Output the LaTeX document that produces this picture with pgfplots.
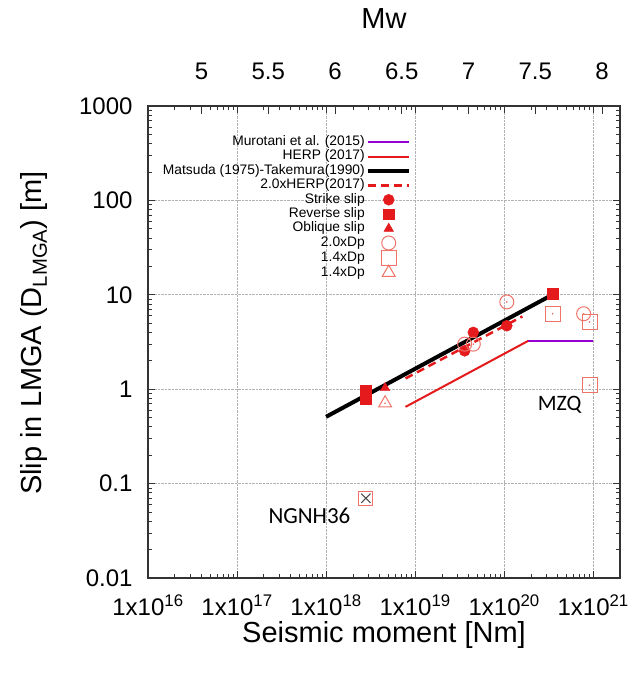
\documentclass[border=0pt]{standalone}
\usepackage{pgfplots}
\pgfplotsset{compat=1.18}
\usepackage{fontspec}
\setmainfont{Liberation Sans}
\newfontfamily\calibri{Carlito}
\definecolor{gred}{RGB}{228,26,28}
\definecolor{lred}{RGB}{240,115,105}
\definecolor{gpurple}{RGB}{148,0,211}
\pgfplotsset{
  lineleg/.style={legend image code/.code={\draw[##1] (0pt,0pt) -- (41pt,0pt);}},
  markleg/.style={legend image code/.code={\path[draw=none,fill=none] (0pt,0pt) -- (41pt,0pt); \draw[##1,draw=none] plot coordinates {(21pt,0pt)};}},
}
\begin{document}
\begin{tikzpicture}
\useasboundingbox (-148pt,-104pt) rectangle (487pt,578pt);
\begin{axis}[
  scale only axis, width=472pt, height=472pt,
  xmode=log, ymode=log,
  xmin=1e16, xmax=2e21, ymin=0.01, ymax=1000,
  xtick={1e16,1e17,1e18,1e19,1e20,1e21},
  xticklabels={1x10\textsuperscript{16},1x10\textsuperscript{17},1x10\textsuperscript{18},1x10\textsuperscript{19},1x10\textsuperscript{20},1x10\textsuperscript{21}},
  minor xtick={2e16,3e16,4e16,5e16,6e16,7e16,8e16,9e16,
               2e17,3e17,4e17,5e17,6e17,7e17,8e17,9e17,
               2e18,3e18,4e18,5e18,6e18,7e18,8e18,9e18,
               2e19,3e19,4e19,5e19,6e19,7e19,8e19,9e19,
               2e20,3e20,4e20,5e20,6e20,7e20,8e20,9e20},
  ytick={0.01,0.1,1,10,100,1000},
  yticklabels={0.01,0.1,1,10,100,1000},
  minor ytick={0.02,0.03,0.04,0.05,0.06,0.07,0.08,0.09,
               0.2,0.3,0.4,0.5,0.6,0.7,0.8,0.9,
               2,3,4,5,6,7,8,9,
               20,30,40,50,60,70,80,90,
               200,300,400,500,600,700,800,900},
  tick align=inside,
  major tick length=7pt, minor tick length=4pt,
  tick style={black!80, line width=0.8pt},
  axis line style={black!80, line width=1.3pt},
  grid=major,
  major grid style={densely dotted, gray!60, line width=0.7pt},
  ticklabel style={font=\fontsize{24}{28}\selectfont},
  yticklabel style={xshift=-12pt},
  xticklabel style={yshift=-13pt},
  xlabel={Seismic moment [Nm]},
  ylabel={Slip in LMGA (D\textsubscript{LMGA}) [m]},
  label style={font=\fontsize{29}{34}\selectfont},
  xlabel style={at={(axis description cs:0.5,-0.1215)}, anchor=center},
  ylabel style={at={(axis description cs:-0.2418,0.519)}, anchor=center},
  legend plot pos=right,
  legend cell align=right,
  legend style={at={(0.557,0.939)}, anchor=north east, draw=none, fill=none,
    font=\fontsize{13.8}{15}\selectfont, inner sep=0pt, row sep=0pt,
    nodes={inner sep=1pt, text height=9.6pt, text depth=2.8pt}},
]
\addplot[gpurple, line width=2pt, lineleg] coordinates {(1.86e20,3.25) (1e21,3.25)};
\addlegendentry{Murotani et al. (2015)}
\addplot[gred, line width=2pt, lineleg] coordinates {(7.8e18,0.65) (1.86e20,3.25)};
\addlegendentry{HERP (2017)}
\addplot[black, line width=4pt, lineleg] coordinates {(1e18,0.51) (3.2e20,9.6)};
\addlegendentry{Matsuda (1975)-Takemura(1990)}
\addplot[gred, line width=2.5pt, dash pattern=on 8pt off 5pt, lineleg] coordinates {(7.8e18,1.3) (1.6e20,5.9)};
\addlegendentry{2.0xHERP(2017)}
\addplot[only marks, mark=*, mark size=5.5pt, gred, markleg] coordinates {(4.5e19,4.0) (3.6e19,2.55) (1.07e20,4.7)};
\addlegendentry{Strike slip}
\addplot[only marks, mark=square*, mark size=5.3pt, gred, markleg] coordinates {(2.8e18,0.97) (2.8e18,0.78) (3.5e20,10.2)};
\addlegendentry{Reverse slip}
\addplot[only marks, mark=triangle*, mark size=5.5pt, gred, markleg] coordinates {(4.6e18,1.03)};
\addlegendentry{Oblique slip}
\addplot[only marks, mark=o, mark size=7pt, lred, line width=1pt, markleg] coordinates {(1.07e20,8.4) (4.5e19,3.0) (3.6e19,3.0) (7.8e20,6.3)};
\addlegendentry{2.0xDp}
\addplot[only marks, mark=square, mark size=7.5pt, lred, line width=1pt, markleg] coordinates {(3.5e20,6.3) (9.1e20,5.15) (9.1e20,1.1)};
\addlegendentry{1.4xDp}
\addplot[only marks, mark=triangle, mark size=7.5pt, lred, line width=1pt, markleg] coordinates {(4.6e18,0.71)};
\addlegendentry{1.4xDp}
\addplot[only marks, mark=*, mark size=0.6pt, lred, forget plot] coordinates {(1.07e20,8.4) (4.5e19,3.0) (7.8e20,6.3) (3.5e20,6.3) (9.1e20,5.15) (9.1e20,1.1) (4.6e18,0.71)};
\addplot[only marks, mark=square, mark size=7pt, lred, line width=1pt, forget plot] coordinates {(2.8e18,0.07)};
\addplot[only marks, mark=x, mark size=6.5pt, black!70, line width=1pt, forget plot] coordinates {(2.8e18,0.07)};
\node[font=\calibri\fontsize{22}{26}\selectfont] at (axis cs:4.2e20,0.68) {MZQ};
\node[font=\calibri\fontsize{23}{27}\selectfont] at (axis cs:6.5e17,0.0454) {NGNH36};
\end{axis}
\begin{axis}[
  scale only axis, width=472pt, height=472pt,
  xmin=4.6, xmax=8.134, ymin=0, ymax=1,
  axis x line*=top, axis y line=none,
  xtick={5,5.5,6,6.5,7,7.5,8},
  xticklabels={5,5.5,6,6.5,7,7.5,8},
  minor xtick={},
  xtick align=inside,
  major tick length=8pt,
  tick style={black!80, line width=0.8pt},
  axis line style={black!80, line width=1.3pt},
  xticklabel style={font=\fontsize{24}{28}\selectfont, yshift=23pt},
  xlabel={Mw},
  xlabel style={at={(axis description cs:0.5,1.185)}, anchor=center, font=\fontsize{29}{34}\selectfont},
]
\end{axis}
\end{tikzpicture}
\end{document}
